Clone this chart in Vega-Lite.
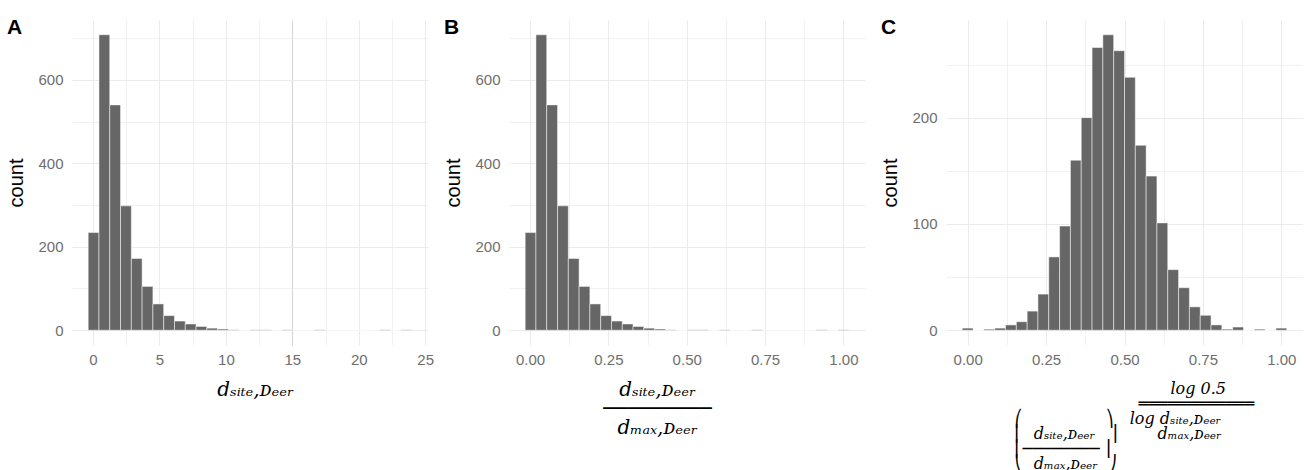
{
  "$schema": "https://vega.github.io/schema/vega-lite/v6.json",
  "background": "white",
  "padding": {"left": 6, "top": 17, "right": 0, "bottom": 0},
  "autosize": {"type": "pad"},
  "spacing": 81,
  "bounds": "flush",
  "datasets": {
    "histA": [
      {"bin_start": -0.366, "bin_end": 0.446, "count": 234},
      {"bin_start": 0.446, "bin_end": 1.258, "count": 708},
      {"bin_start": 1.258, "bin_end": 2.070, "count": 540},
      {"bin_start": 2.070, "bin_end": 2.882, "count": 298},
      {"bin_start": 2.882, "bin_end": 3.694, "count": 172},
      {"bin_start": 3.694, "bin_end": 4.506, "count": 105},
      {"bin_start": 4.506, "bin_end": 5.318, "count": 63},
      {"bin_start": 5.318, "bin_end": 6.130, "count": 35},
      {"bin_start": 6.130, "bin_end": 6.942, "count": 22},
      {"bin_start": 6.942, "bin_end": 7.754, "count": 15},
      {"bin_start": 7.754, "bin_end": 8.566, "count": 9},
      {"bin_start": 8.566, "bin_end": 9.378, "count": 5},
      {"bin_start": 9.378, "bin_end": 10.190, "count": 3},
      {"bin_start": 10.190, "bin_end": 11.002, "count": 1},
      {"bin_start": 11.002, "bin_end": 11.814, "count": 0},
      {"bin_start": 11.814, "bin_end": 12.626, "count": 1},
      {"bin_start": 12.626, "bin_end": 13.438, "count": 1},
      {"bin_start": 13.438, "bin_end": 14.250, "count": 0},
      {"bin_start": 14.250, "bin_end": 15.062, "count": 1},
      {"bin_start": 15.062, "bin_end": 15.874, "count": 0},
      {"bin_start": 15.874, "bin_end": 16.686, "count": 0},
      {"bin_start": 16.686, "bin_end": 17.498, "count": 1},
      {"bin_start": 17.498, "bin_end": 18.310, "count": 0},
      {"bin_start": 18.310, "bin_end": 19.122, "count": 0},
      {"bin_start": 19.122, "bin_end": 19.934, "count": 0},
      {"bin_start": 19.934, "bin_end": 20.746, "count": 0},
      {"bin_start": 20.746, "bin_end": 21.558, "count": 0},
      {"bin_start": 21.558, "bin_end": 22.370, "count": 1},
      {"bin_start": 22.370, "bin_end": 23.182, "count": 0},
      {"bin_start": 23.182, "bin_end": 23.994, "count": 1}
    ],
    "histB": [
      {"bin_start": -0.0155, "bin_end": 0.0189, "count": 234},
      {"bin_start": 0.0189, "bin_end": 0.0533, "count": 708},
      {"bin_start": 0.0533, "bin_end": 0.0878, "count": 540},
      {"bin_start": 0.0878, "bin_end": 0.1222, "count": 298},
      {"bin_start": 0.1222, "bin_end": 0.1566, "count": 172},
      {"bin_start": 0.1566, "bin_end": 0.1910, "count": 105},
      {"bin_start": 0.1910, "bin_end": 0.2255, "count": 63},
      {"bin_start": 0.2255, "bin_end": 0.2599, "count": 35},
      {"bin_start": 0.2599, "bin_end": 0.2943, "count": 22},
      {"bin_start": 0.2943, "bin_end": 0.3288, "count": 15},
      {"bin_start": 0.3288, "bin_end": 0.3632, "count": 9},
      {"bin_start": 0.3632, "bin_end": 0.3976, "count": 5},
      {"bin_start": 0.3976, "bin_end": 0.4320, "count": 3},
      {"bin_start": 0.4320, "bin_end": 0.4665, "count": 1},
      {"bin_start": 0.4665, "bin_end": 0.5009, "count": 0},
      {"bin_start": 0.5009, "bin_end": 0.5353, "count": 1},
      {"bin_start": 0.5353, "bin_end": 0.5698, "count": 1},
      {"bin_start": 0.5698, "bin_end": 0.6042, "count": 0},
      {"bin_start": 0.6042, "bin_end": 0.6386, "count": 1},
      {"bin_start": 0.6386, "bin_end": 0.6730, "count": 0},
      {"bin_start": 0.6730, "bin_end": 0.7075, "count": 0},
      {"bin_start": 0.7075, "bin_end": 0.7419, "count": 1},
      {"bin_start": 0.7419, "bin_end": 0.7763, "count": 0},
      {"bin_start": 0.7763, "bin_end": 0.8108, "count": 0},
      {"bin_start": 0.8108, "bin_end": 0.8452, "count": 0},
      {"bin_start": 0.8452, "bin_end": 0.8796, "count": 0},
      {"bin_start": 0.8796, "bin_end": 0.9140, "count": 0},
      {"bin_start": 0.9140, "bin_end": 0.9485, "count": 1},
      {"bin_start": 0.9485, "bin_end": 0.9829, "count": 0},
      {"bin_start": 0.9829, "bin_end": 1.0173, "count": 1}
    ],
    "histC": [
      {"bin_start": -0.0172, "bin_end": 0.0172, "count": 2},
      {"bin_start": 0.0172, "bin_end": 0.0517, "count": 0},
      {"bin_start": 0.0517, "bin_end": 0.0862, "count": 1},
      {"bin_start": 0.0862, "bin_end": 0.1207, "count": 2},
      {"bin_start": 0.1207, "bin_end": 0.1552, "count": 5},
      {"bin_start": 0.1552, "bin_end": 0.1897, "count": 8},
      {"bin_start": 0.1897, "bin_end": 0.2241, "count": 18},
      {"bin_start": 0.2241, "bin_end": 0.2586, "count": 34},
      {"bin_start": 0.2586, "bin_end": 0.2931, "count": 69},
      {"bin_start": 0.2931, "bin_end": 0.3276, "count": 98},
      {"bin_start": 0.3276, "bin_end": 0.3621, "count": 160},
      {"bin_start": 0.3621, "bin_end": 0.3966, "count": 200},
      {"bin_start": 0.3966, "bin_end": 0.4310, "count": 266},
      {"bin_start": 0.4310, "bin_end": 0.4655, "count": 278},
      {"bin_start": 0.4655, "bin_end": 0.5000, "count": 263},
      {"bin_start": 0.5000, "bin_end": 0.5345, "count": 238},
      {"bin_start": 0.5345, "bin_end": 0.5690, "count": 174},
      {"bin_start": 0.5690, "bin_end": 0.6034, "count": 145},
      {"bin_start": 0.6034, "bin_end": 0.6379, "count": 101},
      {"bin_start": 0.6379, "bin_end": 0.6724, "count": 57},
      {"bin_start": 0.6724, "bin_end": 0.7069, "count": 40},
      {"bin_start": 0.7069, "bin_end": 0.7414, "count": 22},
      {"bin_start": 0.7414, "bin_end": 0.7759, "count": 14},
      {"bin_start": 0.7759, "bin_end": 0.8103, "count": 5},
      {"bin_start": 0.8103, "bin_end": 0.8448, "count": 1},
      {"bin_start": 0.8448, "bin_end": 0.8793, "count": 3},
      {"bin_start": 0.8793, "bin_end": 0.9138, "count": 0},
      {"bin_start": 0.9138, "bin_end": 0.9483, "count": 1},
      {"bin_start": 0.9483, "bin_end": 0.9828, "count": 0},
      {"bin_start": 0.9828, "bin_end": 1.0172, "count": 2}
    ]
  },
  "config": {
    "view": {"stroke": null},
    "axis": {
      "domain": false,
      "ticks": false,
      "tickSize": 0,
      "labelFont": "Liberation Sans",
      "labelFontSize": 15,
      "labelColor": "#6e6e6e",
      "labelPadding": 9,
      "labelOverlap": false,
      "labelBound": false,
      "labelFlush": false,
      "titleFont": "Liberation Sans",
      "titleFontSize": 20,
      "titleFontWeight": "normal",
      "titleColor": "#000000",
      "grid": true
    },
    "axisX": {"labelPadding": 7},
    "title": {
      "anchor": "start",
      "frame": "bounds",
      "font": "Liberation Sans",
      "fontSize": 21,
      "fontWeight": "bold",
      "color": "#000000",
      "baseline": "alphabetic",
      "offset": -18
    }
  },
  "hconcat": [
    {
      "width": 356,
      "height": 325,
      "title": "A",
      "data": {"name": "histA"},
      "mark": {"type": "bar", "fill": "#666666", "stroke": "#ffffff", "strokeWidth": 0.5},
      "encoding": {
        "x": {
          "field": "bin_start",
          "type": "quantitative",
          "scale": {"domain": [-1.584, 25.212], "nice": false, "zero": false},
          "axis": {
            "values": [0, 2.5, 5, 7.5, 10, 12.5, 15, 17.5, 20, 22.5, 25],
            "labelExpr": "datum.value % 5 === 0 ? datum.label : ''",
            "gridColor": {"condition": {"test": "datum.value === 15", "value": "#d6d6d6"}, "value": "#ebebeb"},
            "gridWidth": {"condition": {"test": "datum.value % 5 === 0", "value": 1.1}, "value": 0.7},
            "title": "\u2060\u2002dₛᵢₜₑ,ᴅₑₑᵣ",
            "titleFont": "DejaVu Serif",
            "titleFontStyle": "italic",
            "titleFontSize": 20,
            "titlePadding": 12
          }
        },
        "x2": {"field": "bin_end"},
        "y": {
          "field": "count",
          "type": "quantitative",
          "scale": {"domain": [-35.4, 743.4], "nice": false, "zero": false},
          "axis": {
            "values": [0, 100, 200, 300, 400, 500, 600, 700],
            "labelExpr": "datum.value % 200 === 0 ? datum.label : ''",
            "gridColor": "#ebebeb",
            "gridWidth": {"condition": {"test": "datum.value % 200 === 0", "value": 1.1}, "value": 0.7},
            "title": "count",
            "titlePadding": 11
          }
        },
        "y2": {"datum": 0}
      }
    },
    {
      "width": 356,
      "height": 325,
      "title": "B",
      "data": {"name": "histB"},
      "mark": {"type": "bar", "fill": "#666666", "stroke": "#ffffff", "strokeWidth": 0.5},
      "encoding": {
        "x": {
          "field": "bin_start",
          "type": "quantitative",
          "scale": {"domain": [-0.0671, 1.0689], "nice": false, "zero": false},
          "axis": {
            "values": [0, 0.125, 0.25, 0.375, 0.5, 0.625, 0.75, 0.875, 1],
            "format": ".2f",
            "labelExpr": "abs(datum.value * 4 - round(datum.value * 4)) < 0.001 ? datum.label : ''",
            "gridColor": "#ebebeb",
            "gridWidth": {"condition": {"test": "abs(datum.value * 4 - round(datum.value * 4)) < 0.001", "value": 1.1}, "value": 0.7},
            "title": ["dₛᵢₜₑ,ᴅₑₑᵣ\u2003\u2003\u2003\u2060", "─────────\u2003\u2003\u2003\u2060", "dₘₐₓ,ᴅₑₑᵣ\u2003\u2003\u2003\u2060"],
            "titleFont": "DejaVu Serif",
            "titleFontStyle": "italic",
            "titleFontSize": 20,
            "titleLineHeight": 19,
            "titlePadding": 12
          }
        },
        "x2": {"field": "bin_end"},
        "y": {
          "field": "count",
          "type": "quantitative",
          "scale": {"domain": [-35.4, 743.4], "nice": false, "zero": false},
          "axis": {
            "values": [0, 100, 200, 300, 400, 500, 600, 700],
            "labelExpr": "datum.value % 200 === 0 ? datum.label : ''",
            "gridColor": "#ebebeb",
            "gridWidth": {"condition": {"test": "datum.value % 200 === 0", "value": 1.1}, "value": 0.7},
            "title": "count",
            "titlePadding": 11
          }
        },
        "y2": {"datum": 0}
      }
    },
    {
      "width": 357,
      "height": 325,
      "title": "C",
      "data": {"name": "histC"},
      "mark": {"type": "bar", "fill": "#666666", "stroke": "#ffffff", "strokeWidth": 0.5},
      "encoding": {
        "x": {
          "field": "bin_start",
          "type": "quantitative",
          "scale": {"domain": [-0.069, 1.069], "nice": false, "zero": false},
          "axis": {
            "values": [0, 0.125, 0.25, 0.375, 0.5, 0.625, 0.75, 0.875, 1],
            "format": ".2f",
            "labelExpr": "abs(datum.value * 4 - round(datum.value * 4)) < 0.001 ? datum.label : ''",
            "gridColor": "#ebebeb",
            "gridWidth": {"condition": {"test": "abs(datum.value * 4 - round(datum.value * 4)) < 0.001", "value": 1.1}, "value": 0.7},
            "title": [
              "\u2060\u2003\u2003\u2003\u2003\u2003\u2003\u2003\u2003\u2003\u2003\u2003\u2003\u2003\u2003log 0.5",
              "\u2060\u2003\u2003\u2003\u2003\u2003\u2003\u2003\u2003\u2003\u2003\u2003\u2003════════════",
              "\u2060\u2003\u2003\u2003\u2003\u2005⎛\u2003\u2003\u2003\u2003\u2002\u2002\u2009⎞\u2002\u2002log dₛᵢₜₑ,ᴅₑₑᵣ",
              "\u2060\u2003\u2003\u2003\u2003\u2005⎜\u2002\u2009dₛᵢₜₑ,ᴅₑₑᵣ\u2002\u2009\u2009⎟\u2003\u2003\u2002dₘₐₓ,ᴅₑₑᵣ",
              "\u2060\u2003\u2003\u2003\u2003\u2005⎜────────\u2009⎟",
              "\u2060\u2003\u2003\u2003\u2003\u2005⎝\u2002\u2009dₘₐₓ,ᴅₑₑᵣ\u2002\u2009⎠"
            ],
            "titleFont": "DejaVu Serif",
            "titleFontStyle": "italic",
            "titleFontSize": 16,
            "titleLineHeight": 15,
            "titleAlign": "left",
            "titleAnchor": "start",
            "titlePadding": 13
          }
        },
        "x2": {"field": "bin_end"},
        "y": {
          "field": "count",
          "type": "quantitative",
          "scale": {"domain": [-13.9, 291.9], "nice": false, "zero": false},
          "axis": {
            "values": [0, 50, 100, 150, 200, 250],
            "labelExpr": "datum.value % 100 === 0 ? datum.label : ''",
            "gridColor": "#ebebeb",
            "gridWidth": {"condition": {"test": "datum.value % 100 === 0", "value": 1.1}, "value": 0.7},
            "title": "count",
            "titlePadding": 11
          }
        },
        "y2": {"datum": 0}
      }
    }
  ]
}
